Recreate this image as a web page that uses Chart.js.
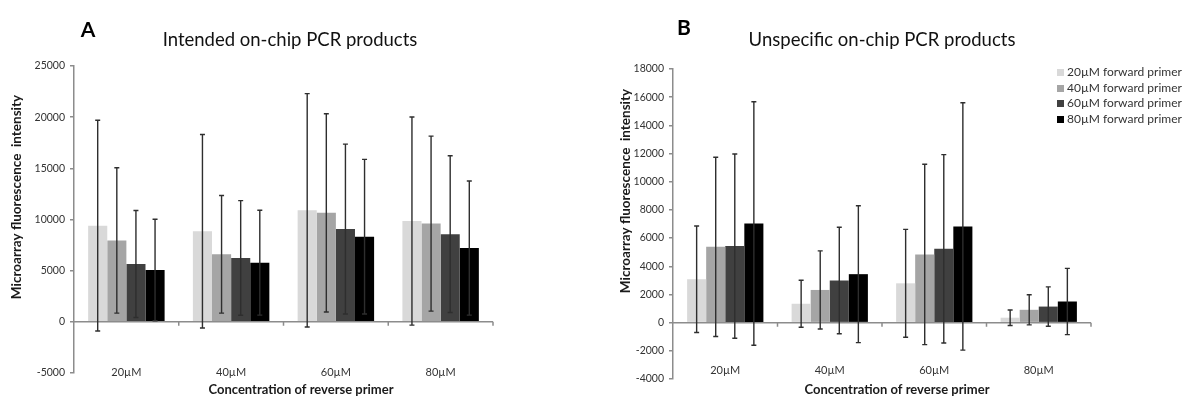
<!DOCTYPE html>
<html>
<head>
<meta charset="utf-8">
<script src="https://cdn.jsdelivr.net/npm/chart.js@4.4.0/dist/chart.umd.min.js"></script>
<style>
body{margin:0;background:#fff;width:1185px;height:399px;position:relative;overflow:hidden;font-family:Lato,sans-serif}
#wrapA{position:absolute;left:0;top:0}
#wrapB{position:absolute;left:590px;top:0}
#legend{position:absolute;left:1057px;top:64px;font-size:12px;color:#333}
.item{height:15.5px;line-height:15.5px;white-space:nowrap}
.sw{display:inline-block;width:7px;height:7px;margin-right:3px}
</style>
</head>
<body>
<div id="wrapA"><canvas id="chartA" width="590" height="399"></canvas></div>
<div id="wrapB"><canvas id="chartB" width="595" height="399"></canvas></div>
<div id="legend"></div>
<script>
const categories = ['20µM', '40µM', '60µM', '80µM'];
const seriesNames = ['20µM forward primer', '40µM forward primer', '60µM forward primer', '80µM forward primer'];
const seriesColors = ['#d9d9d9', '#a5a5a5', '#404040', '#000000'];

// panel A - intended products (mean, +/- error)
const intended20 = [9400, 8850, 10900, 9850];
const intended40 = [7950, 6600, 10650, 9600];
const intended60 = [5650, 6240, 9070, 8570];
const intended80 = [5060, 5780, 8320, 7210];
const intendedErr20 = [10300, 9450, 11400, 10170];
const intendedErr40 = [7100, 5750, 9690, 8550];
const intendedErr60 = [5230, 5600, 8300, 7660];
const intendedErr80 = [4960, 5120, 7560, 6550];
const ticksA = [-5000, 25000, 5000];

// panel B - unspecific products
const unspecific20 = [3080, 1340, 2790, 350];
const unspecific40 = [5380, 2320, 4840, 910];
const unspecific60 = [5430, 2990, 5240, 1140];
const unspecific80 = [7040, 3440, 6830, 1500];
const unspecificErr20 = [3780, 1670, 3830, 550];
const unspecificErr40 = [6360, 2770, 6400, 1070];
const unspecificErr60 = [6540, 3780, 6680, 1400];
const unspecificErr80 = [8640, 4860, 8780, 2350];
const ticksB = [-4000, 18000, 2000];

const axisGray = '#8c8c8c';

const errorBars = {
  id: 'errorBars',
  afterDatasetsDraw(chart) {
    const ctx = chart.ctx, x = chart.scales.x, y = chart.scales.y;
    const y0 = y.getPixelForValue(0);
    ctx.save();
    // zero axis line with category ticks
    ctx.strokeStyle = axisGray;
    ctx.lineWidth = 1.5;
    ctx.beginPath();
    ctx.moveTo(x.left, y0);
    ctx.lineTo(x.right, y0);
    const n = categories.length, w = (x.right - x.left) / n;
    for (let i = 1; i <= n; i++) {
      ctx.moveTo(x.left + i * w, y0);
      ctx.lineTo(x.left + i * w, y0 + 4);
    }
    ctx.stroke();
    // error bars
    ctx.strokeStyle = '#2e2e2e';
    ctx.lineWidth = 1.4;
    chart.data.datasets.forEach((ds, i) => {
      chart.getDatasetMeta(i).data.forEach((bar, j) => {
        const v = ds.data[j], e = ds.errors[j];
        const top = y.getPixelForValue(v + e), bot = y.getPixelForValue(v - e);
        ctx.beginPath();
        ctx.moveTo(bar.x, top); ctx.lineTo(bar.x, bot);
        ctx.moveTo(bar.x - 2.5, top); ctx.lineTo(bar.x + 2.5, top);
        ctx.moveTo(bar.x - 2.5, bot); ctx.lineTo(bar.x + 2.5, bot);
        ctx.stroke();
      });
    });
    ctx.restore();
  }
};

const panelText = {
  id: 'panelText',
  afterDraw(chart, args, o) {
    const ctx = chart.ctx, x = chart.scales.x;
    ctx.save();
    ctx.textAlign = 'center';
    ctx.textBaseline = 'middle';
    // category labels sit at the bottom of the plot, Excel style
    ctx.fillStyle = '#333';
    ctx.font = '11px Lato';
    categories.forEach((c, i) => ctx.fillText(c, x.getPixelForTick(i), o.labelY));
    ctx.fillStyle = '#000';
    ctx.font = 'bold 21px Lato';
    ctx.fillText(o.letter, o.letterX, o.letterY);
    ctx.font = '18.5px Lato';
    ctx.fillStyle = '#111';
    ctx.fillText(o.title, o.titleX, o.titleY);
    ctx.font = 'bold 13px Lato';
    ctx.fillStyle = '#1a1a1a';
    ctx.fillText(o.xTitle, o.xTitleX, o.xTitleY);
    ctx.translate(o.yTitleX, o.yTitleY);
    ctx.rotate(-Math.PI / 2);
    ctx.font = 'bold 13.5px Lato';
    ctx.fillText(o.yTitle, 0, 0);
    ctx.restore();
  }
};

function makeChart(id, values, errors, ticks, layout, text) {
  const datasets = values.map((d, i) => ({
    label: seriesNames[i],
    data: d,
    errors: errors[i],
    backgroundColor: seriesColors[i],
    borderWidth: 0,
    categoryPercentage: 0.73,
    barPercentage: 1.0
  }));
  return new Chart(document.getElementById(id), {
    type: 'bar',
    data: { labels: categories, datasets: datasets },
    plugins: [errorBars, panelText],
    options: {
      responsive: false,
      animation: false,
      layout: { padding: { top: layout.top, right: layout.right, bottom: 0, left: 0 } },
      plugins: {
        legend: { display: false },
        tooltip: { enabled: false },
        panelText: text
      },
      scales: {
        x: {
          grid: { display: false, drawTicks: false },
          border: { display: false },
          ticks: { display: false },
          afterFit: (s) => { s.height = layout.xHeight; }
        },
        y: {
          min: ticks[0], max: ticks[1],
          grid: { drawOnChartArea: false, drawTicks: true, tickLength: 4, tickColor: axisGray, lineWidth: 1.5 },
          border: { display: true, color: axisGray, width: 1.5 },
          ticks: {
            stepSize: ticks[2], color: '#333', padding: 5,
            font: { family: 'Lato', size: 10.5 },
            callback: (v) => String(v)
          },
          afterFit: (s) => { s.width = layout.yWidth; }
        }
      }
    }
  });
}

makeChart('chartA',
  [intended20, intended40, intended60, intended80],
  [intendedErr20, intendedErr40, intendedErr60, intendedErr80],
  ticksA,
  { top: 66, right: 97, yWidth: 74, xHeight: 26 },
  { letter: 'A', letterX: 88, letterY: 30, title: 'Intended on-chip PCR products', titleX: 290, titleY: 40,
    labelY: 372,
    xTitle: 'Concentration of reverse primer', xTitleX: 301, xTitleY: 390,
    yTitle: 'Microarray fluorescence  intensity', yTitleX: 17, yTitleY: 197 });

makeChart('chartB',
  [unspecific20, unspecific40, unspecific60, unspecific80],
  [unspecificErr20, unspecificErr40, unspecificErr60, unspecificErr80],
  ticksB,
  { top: 69, right: 94, yWidth: 83, xHeight: 20 },
  { letter: 'B', letterX: 94, letterY: 28, title: 'Unspecific on-chip PCR products', titleX: 292, titleY: 40,
    labelY: 370,
    xTitle: 'Concentration of reverse primer', xTitleX: 307, xTitleY: 390,
    yTitle: 'Microarray fluorescence  intensity', yTitleX: 36, yTitleY: 191 });

const legend = document.getElementById('legend');
seriesNames.forEach((name, i) => {
  const row = document.createElement('div');
  row.className = 'item';
  row.innerHTML = '<span class="sw" style="background:' + seriesColors[i] + '"></span>' + name;
  legend.appendChild(row);
});
</script>
</body>
</html>
